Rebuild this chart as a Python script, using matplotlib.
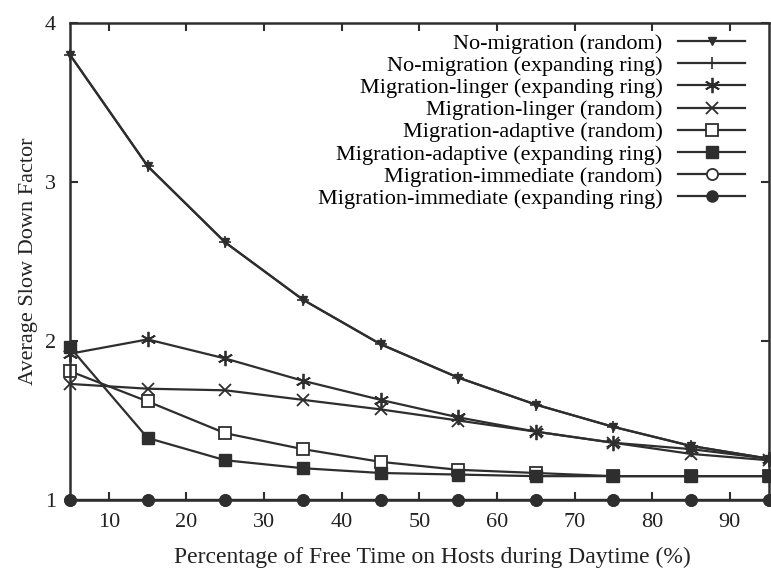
import numpy as np
import matplotlib
matplotlib.use('Agg')
from matplotlib import pyplot as plt

# porcentaje de tiempo libre
pct = [5, 15, 25, 35, 45, 55, 65, 75, 85, 95]

no_mig_rand = [3.80, 3.10, 2.62, 2.26, 1.98, 1.77, 1.60, 1.46, 1.34, 1.26]
no_mig_ring = [3.80, 3.10, 2.62, 2.26, 1.98, 1.77, 1.60, 1.46, 1.34, 1.26]
linger_ring = [1.92, 2.01, 1.89, 1.75, 1.63, 1.52, 1.43, 1.36, 1.32, 1.26]
linger_rand = [1.73, 1.70, 1.69, 1.63, 1.57, 1.50, 1.43, 1.36, 1.29, 1.25]
adapt_rand = [1.81, 1.62, 1.42, 1.32, 1.24, 1.19, 1.17, 1.15, 1.15, 1.15]
adapt_ring = [1.96, 1.39, 1.25, 1.20, 1.17, 1.16, 1.15, 1.15, 1.15, 1.15]
immed_rand = [1.0, 1.0, 1.0, 1.0, 1.0, 1.0, 1.0, 1.0, 1.0, 1.0]
immed_ring = [1.0, 1.0, 1.0, 1.0, 1.0, 1.0, 1.0, 1.0, 1.0, 1.0]

etiquetas = ['No-migration (random)', 'No-migration (expanding ring)',
             'Migration-linger (expanding ring)', 'Migration-linger (random)',
             'Migration-adaptive (random)', 'Migration-adaptive (expanding ring)',
             'Migration-immediate (random)', 'Migration-immediate (expanding ring)']

plt.rcParams['font.family'] = ['Liberation Serif', 'DejaVu Serif']
plt.rcParams['font.size'] = 16

c = '#2e2e2e'
figura = plt.figure(figsize=(7.71, 5.68), dpi=100)
ax = figura.add_axes([0.0908, 0.1197, 0.9062, 0.8398])

series = [
    (no_mig_rand, dict(marker='v', ms=6, mfc=c)),
    (no_mig_ring, dict(marker='+', ms=9, mew=1.2)),
    (linger_ring, dict(marker=(6, 2, 0), ms=11, mew=1.3)),
    (linger_rand, dict(marker='x', ms=8, mew=1.3)),
    (adapt_rand, dict(marker='s', ms=8, mfc='white', mew=1.3)),
    (adapt_ring, dict(marker='s', ms=8, mfc=c)),
    (immed_rand, dict(marker='o', ms=8, mfc='white', mew=1.3)),
    (immed_ring, dict(marker='o', ms=8, mfc=c)),
]
for (vals, estilo), lab in zip(series, etiquetas):
    ax.plot(pct, vals, color=c, mec=c, lw=1.6, label=lab, clip_on=False, **estilo)

ax.set_xlim(5, 95)
ax.set_ylim(1, 4)
ax.set_xticks([10, 20, 30, 40, 50, 60, 70, 80, 90])
ax.set_yticks([1, 2, 3, 4])
ax.tick_params(direction='in', top=True, right=True, length=6, width=1.5, colors=c,
               labelcolor='#222222', labelsize=16)
ax.tick_params(axis='x', pad=9)
ax.tick_params(axis='y', pad=10)
for s in ax.spines.values():
    s.set_linewidth(1.8)
    s.set_color(c)

ax.set_xlabel('Percentage of Free Time on Hosts during Daytime (%)', color='#222222',
              fontsize=17, labelpad=9)
ax.xaxis.set_label_coords(0.519, -0.098)
ax.set_ylabel('Average Slow Down Factor', color='#222222', fontsize=16, labelpad=5)

ax.legend(loc='upper right', bbox_to_anchor=(0.966, 0.978), frameon=False,
          markerfirst=False, numpoints=1, handlelength=3.0, handletextpad=0.7,
          labelspacing=0.07, borderpad=0, borderaxespad=0, fontsize=16)

plt.savefig('out.png', dpi=100)
